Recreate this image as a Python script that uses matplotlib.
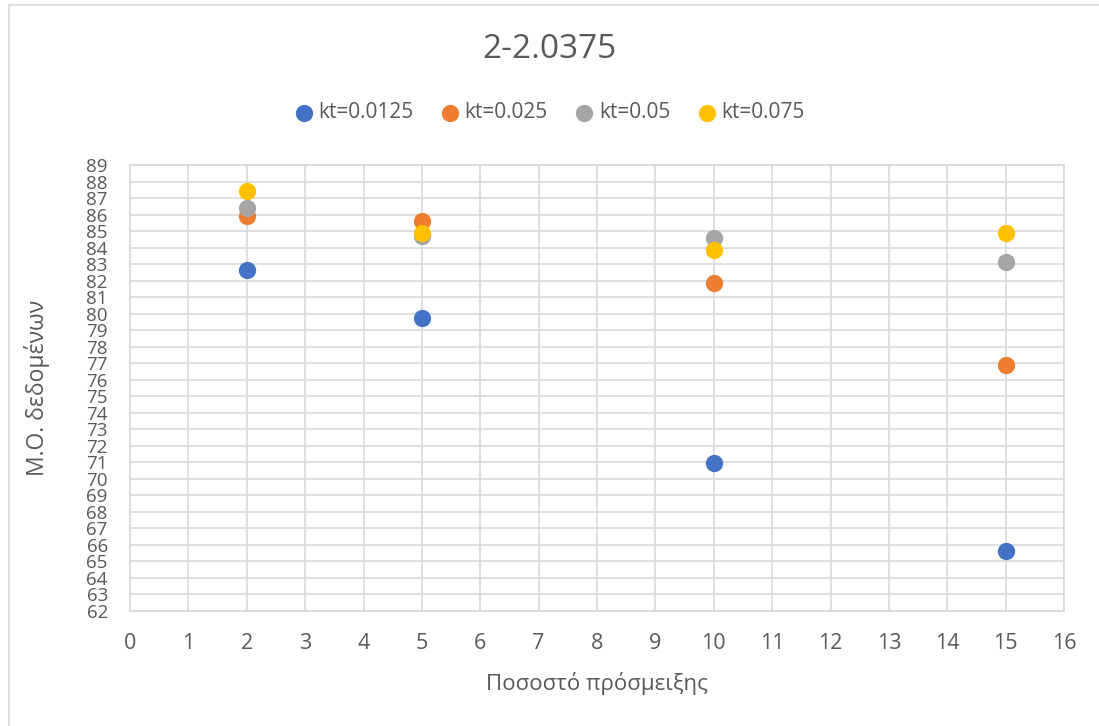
import numpy as np
import matplotlib.pyplot as plt
from matplotlib.patches import Rectangle

# mixing percentage on x, mean of data on y, one series per kt
mix = [2, 5, 10, 15]
kt_labels = ['kt=0.0125', 'kt=0.025', 'kt=0.05', 'kt=0.075']
mean_0125 = [82.63, 79.76, 70.95, 65.62]
mean_025 = [85.93, 85.59, 81.88, 76.88]
mean_05 = [86.42, 84.72, 84.56, 83.15]
mean_075 = [87.45, 84.89, 83.84, 84.89]
colors = ['#4472c4', '#ed7d31', '#a5a5a5', '#ffc000']

txt = '#595959'
plt.rcParams['font.family'] = ['Open Sans', 'DejaVu Sans']

fig = plt.figure(figsize=(10.99, 7.26), dpi=100)
# thin chart-area border
fig.patches.append(Rectangle((9/1099, -0.1), 1.2, 1 - 5/726 + 0.1,
                             transform=fig.transFigure, fill=False,
                             edgecolor='#d9d9d9', linewidth=1.2))

ax = fig.add_axes([130/1099, 1 - 611/726, 934/1099, 446/726])

for vals, lab, c in zip([mean_0125, mean_025, mean_05, mean_075], kt_labels, colors):
    ax.scatter(mix, vals, s=155, color=c, label=lab, zorder=3, linewidths=0)

ax.set_xlim(0, 16)
ax.set_ylim(62, 89)
ax.set_xticks(np.arange(0, 17, 1))
ax.set_yticks(np.arange(62, 90, 1))
ax.grid(True, color='#d9d9d9', linewidth=1.2)
ax.set_axisbelow(True)
for s in ax.spines.values():
    s.set_color('#d9d9d9')
    s.set_linewidth(1.2)
ax.tick_params(length=0, colors=txt)
ax.tick_params(axis='x', labelsize=15.5, pad=16)
ax.tick_params(axis='y', labelsize=13.5, pad=16)

ax.set_xlabel('Ποσοστό πρόσμειξης', color=txt, fontsize=16, labelpad=13)
ax.set_ylabel('Μ.Ο. δεδομένων', color=txt, fontsize=16.5, labelpad=26)

fig.text(0.5, 1 - 50/726, '2-2.0375', ha='center', va='center',
         color=txt, fontsize=24)
fig.legend(loc='center', bbox_to_anchor=(0.5, 1 - 113/726), ncol=4,
           frameon=False, fontsize=15, labelcolor=txt, handlelength=0.9,
           handletextpad=0.25, columnspacing=1.3, markerscale=1.0)

fig.savefig('out.png', dpi=100)
